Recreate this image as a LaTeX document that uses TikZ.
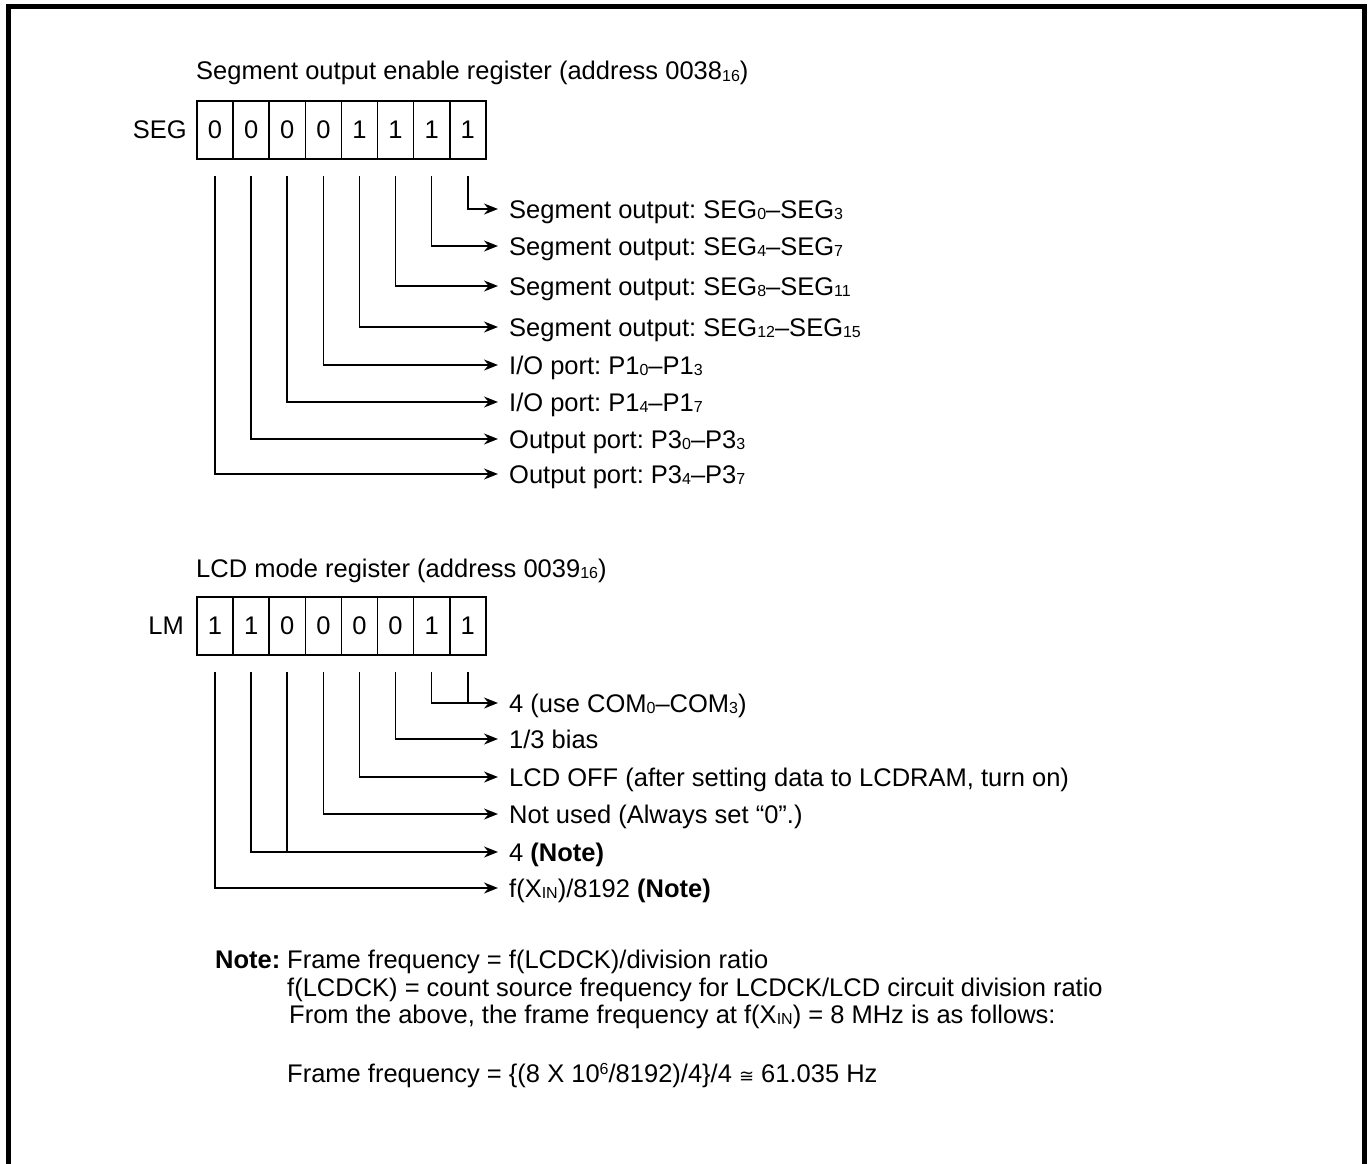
\documentclass[tikz,border=0pt]{standalone}
\usepackage{fontspec}
\setmainfont{Liberation Sans}
\newfontfamily\symfont{DejaVu Sans}
\usetikzlibrary{arrows.meta,positioning}
\newcommand{\sbs}[1]{\raisebox{-1.5pt}{\fontsize{16}{16}\selectfont #1}}
\newcommand{\sps}[1]{\raisebox{8pt}{\fontsize{16}{16}\selectfont #1}}
\tikzset{
  every picture/.style={font=\fontsize{25.5}{30}\selectfont, line join=miter, >={Stealth[length=14pt,width=11pt]}},
  bitcell/.style={draw, line width=1.6pt, minimum width=36.1pt, minimum height=58pt, inner sep=0pt},
  regname/.style={anchor=east, inner sep=0pt},
  title/.style={anchor=base west, inner sep=0pt},
  bitlabel/.style={anchor=west, inner xsep=11pt, inner ysep=0pt, text height=18pt, text depth=0pt},
  wire/.style={line width=1.6pt},
}
\frenchspacing
\begin{document}
\begin{tikzpicture}[x=1pt,y=-1pt]
\useasboundingbox (0,0) rectangle (1369,1164);
\draw[line width=5pt] (8.5,1164) -- (8.5,6.5) -- (1364.5,6.5) -- (1364.5,1164);

% segment output enable register
\node[title] (segtitle) at (196,80) {Segment output enable register (address 0038\sbs{16})};
\foreach \b/\v in {7/0,6/0,5/0,4/0,3/1,2/1,1/1,0/1}{
  \node[bitcell] (s\b) at ({197+36.1*(7.5-\b)},130) {\v};
  \coordinate (st\b) at ([yshift=-16pt]s\b.south);
}
\node[regname] (seg) at (187,130) {SEG};
\foreach \b/\y/\t in {0/209/{Segment output: SEG\sbs{0}–SEG\sbs{3}},
    1/246/{Segment output: SEG\sbs{4}–SEG\sbs{7}},
    2/286/{Segment output: SEG\sbs{8}–SEG\sbs{11}},
    3/327/{Segment output: SEG\sbs{12}–SEG\sbs{15}},
    4/365/{I/O port: P1\sbs{0}–P1\sbs{3}},
    5/402/{I/O port: P1\sbs{4}–P1\sbs{7}},
    6/439/{Output port: P3\sbs{0}–P3\sbs{3}},
    7/474/{Output port: P3\sbs{4}–P3\sbs{7}}}{
  \node[bitlabel] (sl\b) at (498,\y) {\t};
  \draw[wire,->] (st\b) |- (sl\b.west);
}

% LCD mode register
\node[title] (lmtitle) at (196,577) {LCD mode register (address 0039\sbs{16})};
\foreach \b/\v in {7/1,6/1,5/0,4/0,3/0,2/0,1/1,0/1}{
  \node[bitcell] (l\b) at ({197+36.1*(7.5-\b)},626) {\v};
  \coordinate (lt\b) at ([yshift=-16pt]l\b.south);
}
\node[regname] (lm) at (184,626) {LM};
\node[bitlabel] (ll0) at (498,703) {4 (use COM\sbs{0}–COM\sbs{3})};
\node[bitlabel] (ll1) at (498,739) {1/3 bias};
\node[bitlabel] (ll2) at (498,777) {LCD OFF (after setting data to LCDRAM, turn on)};
\node[bitlabel] (ll3) at (498,814) {Not used (Always set “0”.)};
\node[bitlabel] (ll4) at (498,852) {4 \textbf{(Note)}};
\node[bitlabel] (ll5) at (498,888) {f(X\sbs{IN})/8192 \textbf{(Note)}};
\foreach \b/\r in {1/0,2/1,3/2,4/3,6/4,7/5}{
  \draw[wire,->] (lt\b) |- (ll\r.west);
}
\foreach \b/\r in {0/0,5/4}{
  \draw[wire] (lt\b) -- (lt\b |- ll\r.west);
}

% note
\node[title] (notehd) at (215,968) {\textbf{Note:}};
\node[title] (note1) at (287,968) {Frame frequency = f(LCDCK)/division ratio};
\node[title] (note2) at (287,996) {f(LCDCK) = count source frequency for LCDCK/LCD circuit division ratio};
\node[title] (note3) at (289,1023) {From the above, the frame frequency at f(X\sbs{IN}) = 8 MHz is as follows:};
\node[title] (note4) at (287,1082) {Frame frequency = \{(8 X 10\sps{6}/8192)/4\}/4 {\symfont\fontsize{18}{18}\selectfont ≅} 61.035 Hz};
\end{tikzpicture}
\end{document}
